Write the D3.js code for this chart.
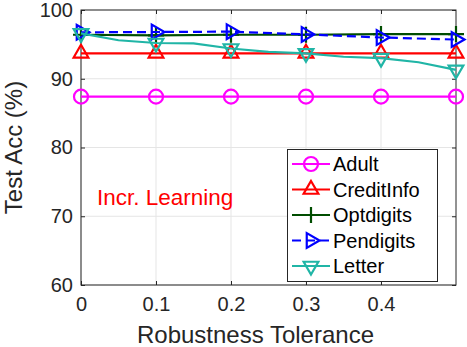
<!DOCTYPE html>
<html><head><meta charset="utf-8">
<script src="https://cdn.jsdelivr.net/npm/d3@7"></script>
<style>html,body{margin:0;padding:0;background:#fff;}svg{display:block;font-family:"Liberation Sans",Arial,Helvetica,sans-serif;}</style>
</head><body>
<script>
// ---- data ----
const xMain = [0, 0.1, 0.2, 0.3, 0.4, 0.5];
const xFine = [0, 0.05, 0.1, 0.15, 0.2, 0.25, 0.3, 0.35, 0.4, 0.45, 0.5];
const adult = [87.4, 87.4, 87.4, 87.4, 87.4, 87.4];
const creditInfo = [93.7, 93.7, 93.7, 93.7, 93.7, 93.7];
const optdigits = [96.4, 96.3, 96.4, 96.4, 96.5, 96.5];
const pendigits = [96.75, 96.8, 96.85, 96.45, 96.0, 95.7];
const letter = [96.6, 95.6, 95.2, 95.15, 94.4, 93.9, 93.7, 93.2, 93.0, 92.4, 91.3];
const xTicks = [0, 0.1, 0.2, 0.3, 0.4];
const yTicks = [60, 70, 80, 90, 100];
const seriesNames = ["Adult", "CreditInfo", "Optdigits", "Pendigits", "Letter"];
const xLabel = "Robustness Tolerance";
const yLabel = "Test Acc (%)";
const annotation = "Incr. Learning";

const W = 467, H = 347;
const L = 81, R = 456, T = 10, B = 285;
const svg = d3.select("body").append("svg").attr("width", W).attr("height", H);
const x = d3.scaleLinear().domain([0, 0.5]).range([L, R]);
const y = d3.scaleLinear().domain([60, 100]).range([B, T]);
const axisCol = "#262626";

// grid
const g = svg.append("g");
g.selectAll(".gx").data(xTicks).join("line").attr("x1", d => x(d)).attr("x2", d => x(d))
  .attr("y1", T).attr("y2", B).attr("stroke", "#e5e5e5").attr("stroke-width", 1);
g.selectAll(".gy").data(yTicks).join("line").attr("y1", d => y(d)).attr("y2", d => y(d))
  .attr("x1", L).attr("x2", R).attr("stroke", "#e5e5e5").attr("stroke-width", 1);

// axes
const xa = svg.append("g").attr("transform", `translate(0,${B})`)
  .call(d3.axisBottom(x).tickValues(xTicks).tickFormat(d => d === 0 ? "0" : d3.format(".1f")(d)).tickSizeInner(-4).tickSizeOuter(0).tickPadding(12));
const xaTop = svg.append("g").attr("transform", `translate(0,${T})`)
  .call(d3.axisTop(x).tickValues(xTicks).tickFormat("").tickSizeInner(-4).tickSizeOuter(0));
const ya = svg.append("g").attr("transform", `translate(${L},0)`)
  .call(d3.axisLeft(y).tickValues(yTicks).tickSizeInner(-4).tickSizeOuter(0).tickPadding(8));
const yaR = svg.append("g").attr("transform", `translate(${R},0)`)
  .call(d3.axisRight(y).tickValues(yTicks).tickFormat("").tickSizeInner(-4).tickSizeOuter(0));
[xa, xaTop, ya, yaR].forEach(a => {
  a.select(".domain").remove();
  a.selectAll("line").attr("stroke", axisCol);
  a.selectAll("text").attr("fill", axisCol).style("font-size", "20px").style("font-family", "'Liberation Sans',Arial,sans-serif");
});
svg.append("rect").attr("x", L).attr("y", T).attr("width", R - L).attr("height", B - T)
  .attr("fill", "none").attr("stroke", axisCol).attr("stroke-width", 1);

svg.append("text").attr("x", (L + R) / 2 - 13).attr("y", 343).attr("text-anchor", "middle")
  .attr("fill", axisCol).style("font-size", "24px").text(xLabel);
svg.append("text").attr("transform", `translate(22,${(T + B) / 2}) rotate(-90)`).attr("text-anchor", "middle")
  .attr("fill", axisCol).style("font-size", "24px").text(yLabel);
svg.append("text").attr("x", 97).attr("y", 205).attr("fill", "#ff0000").style("font-size", "22.5px").text(annotation);

// markers
function markerPath(type) {
  const s = 8.5;
  if (type === "circle") return d3.symbol(d3.symbolCircle, Math.PI * 7 * 7)();
  if (type === "up") return `M0,${-s}L${s * 0.866 * 1.0},${s / 2}L${-s * 0.866},${s / 2}Z`;
  if (type === "down") return `M0,${s}L${s * 0.866},${-s / 2}L${-s * 0.866},${-s / 2}Z`;
  if (type === "right") return `M${s},0L${-s / 2},${s * 0.866}L${-s / 2},${-s * 0.866}Z`;
  if (type === "plus") return `M-8,0L8,0M0,-8L0,8`;
}
const series = [
  {name: seriesNames[0], xs: xMain, ys: adult, color: "#ff00ff", marker: "circle", dash: null, mIdx: [0,1,2,3,4,5]},
  {name: seriesNames[1], xs: xMain, ys: creditInfo, color: "#ff0000", marker: "up", dash: null, mIdx: [0,1,2,3,4,5]},
  {name: seriesNames[2], xs: xMain, ys: optdigits, color: "#004d00", marker: "plus", dash: null, mIdx: [0,1,2,3,4,5]},
  {name: seriesNames[3], xs: xMain, ys: pendigits, color: "#0000ff", marker: "right", dash: "9,5", mIdx: [0,1,2,3,4,5]},
  {name: seriesNames[4], xs: xFine, ys: letter, color: "#20b5a6", marker: "down", dash: null, mIdx: [0,2,4,6,8,10]}
];
const line = d3.line().x(d => x(d[0])).y(d => y(d[1]));
series.forEach(s => {
  const pts = s.xs.map((v, i) => [v, s.ys[i]]);
  svg.append("path").datum(pts).attr("d", line).attr("fill", "none").attr("stroke", s.color)
    .attr("stroke-width", 2.2).attr("stroke-dasharray", s.dash);
  svg.selectAll(null).data(s.mIdx.map(i => pts[i])).join("path")
    .attr("transform", d => `translate(${x(d[0])},${y(d[1])})`)
    .attr("d", markerPath(s.marker)).attr("fill", "none").attr("stroke", s.color).attr("stroke-width", 2.2);
});

// legend
const lg = svg.append("g");
lg.append("rect").attr("x", 287.5).attr("y", 149.5).attr("width", 150).attr("height", 132)
  .attr("fill", "#fff").attr("stroke", axisCol).attr("stroke-width", 1);
series.forEach((s, i) => {
  const cy = 164 + i * 25.5;
  lg.append("line").attr("x1", 292).attr("x2", 330).attr("y1", cy).attr("y2", cy)
    .attr("stroke", s.color).attr("stroke-width", 2.2).attr("stroke-dasharray", s.dash);
  lg.append("path").attr("transform", `translate(311,${cy})`).attr("d", markerPath(s.marker))
    .attr("fill", "none").attr("stroke", s.color).attr("stroke-width", 2.2);
  lg.append("text").attr("x", 333).attr("y", cy + 7).attr("fill", "#000").style("font-size", "20px").text(s.name);
});
</script>
</body></html>
